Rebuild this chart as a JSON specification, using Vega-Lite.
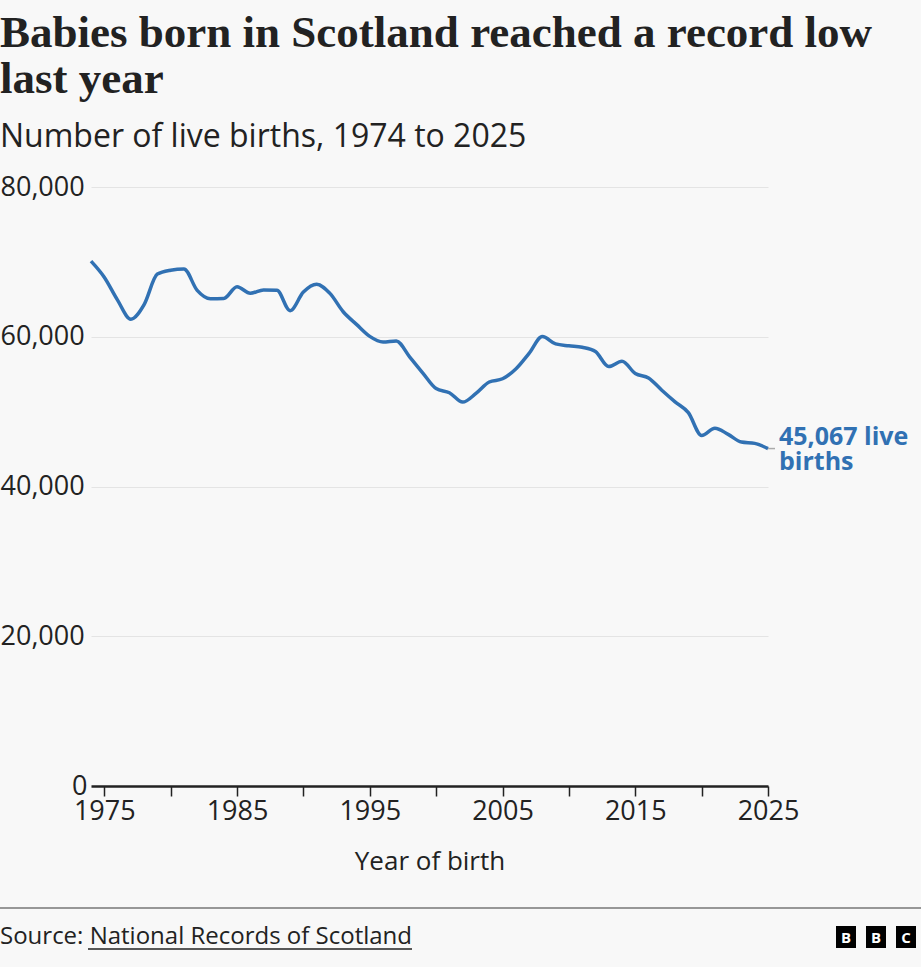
{
  "$schema": "https://vega.github.io/schema/vega-lite/v6.json",
  "width": 677,
  "height": 599,
  "autosize": "none",
  "padding": {"left": 91, "top": 187, "right": 153, "bottom": 181},
  "background": "#f8f8f8",
  "title": {
    "text": ["Babies born in Scotland reached a record low", "last year"],
    "subtitle": "Number of live births, 1974 to 2025",
    "anchor": "start",
    "frame": "group",
    "dx": -91,
    "offset": 20,
    "font": "Liberation Serif",
    "fontSize": 45,
    "fontWeight": "bold",
    "lineHeight": 46,
    "color": "#222222",
    "subtitleFont": "Open Sans",
    "subtitleFontSize": 32,
    "subtitleColor": "#222222",
    "subtitlePadding": 20
  },
  "config": {
    "view": {"stroke": null},
    "font": "Open Sans"
  },
  "data": {
    "values": [
      {"year": 1974, "births": 70093},
      {"year": 1975, "births": 67943},
      {"year": 1976, "births": 64895},
      {"year": 1977, "births": 62342},
      {"year": 1978, "births": 64295},
      {"year": 1979, "births": 68366},
      {"year": 1980, "births": 68892},
      {"year": 1981, "births": 69054},
      {"year": 1982, "births": 66196},
      {"year": 1983, "births": 65078},
      {"year": 1984, "births": 65106},
      {"year": 1985, "births": 66676},
      {"year": 1986, "births": 65812},
      {"year": 1987, "births": 66241},
      {"year": 1988, "births": 66212},
      {"year": 1989, "births": 63480},
      {"year": 1990, "births": 65973},
      {"year": 1991, "births": 67024},
      {"year": 1992, "births": 65789},
      {"year": 1993, "births": 63337},
      {"year": 1994, "births": 61656},
      {"year": 1995, "births": 60051},
      {"year": 1996, "births": 59296},
      {"year": 1997, "births": 59440},
      {"year": 1998, "births": 57319},
      {"year": 1999, "births": 55147},
      {"year": 2000, "births": 53076},
      {"year": 2001, "births": 52527},
      {"year": 2002, "births": 51270},
      {"year": 2003, "births": 52432},
      {"year": 2004, "births": 53957},
      {"year": 2005, "births": 54386},
      {"year": 2006, "births": 55690},
      {"year": 2007, "births": 57781},
      {"year": 2008, "births": 60041},
      {"year": 2009, "births": 59046},
      {"year": 2010, "births": 58791},
      {"year": 2011, "births": 58590},
      {"year": 2012, "births": 58027},
      {"year": 2013, "births": 56014},
      {"year": 2014, "births": 56725},
      {"year": 2015, "births": 55098},
      {"year": 2016, "births": 54488},
      {"year": 2017, "births": 52861},
      {"year": 2018, "births": 51308},
      {"year": 2019, "births": 49863},
      {"year": 2020, "births": 46809},
      {"year": 2021, "births": 47786},
      {"year": 2022, "births": 46959},
      {"year": 2023, "births": 45935},
      {"year": 2024, "births": 45763},
      {"year": 2025, "births": 45067}
    ]
  },
  "layer": [
    {
      "mark": {"type": "line", "interpolate": "monotone", "color": "#3171b3", "strokeWidth": 3.5},
      "encoding": {
        "x": {
          "field": "year",
          "type": "quantitative",
          "scale": {"domain": [1974, 2025], "nice": false, "zero": false},
          "axis": {
            "title": "Year of birth",
            "values": [1975, 1980, 1985, 1990, 1995, 2000, 2005, 2010, 2015, 2020, 2025],
            "format": "d",
            "labelExpr": "datum.value % 10 == 5 ? datum.label : ''",
            "labelFontSize": 27,
            "labelColor": "#222222",
            "labelPadding": 2,
            "labelFlush": false,
            "domain": true,
            "ticks": true,
            "tickSize": 10,
            "tickColor": "#222222",
            "tickWidth": 1.5,
            "domainColor": "#222222",
            "domainWidth": 2.5,
            "grid": false,
            "zindex": 1,
            "titleFontSize": 26,
            "titleFontWeight": "normal",
            "titleColor": "#222222",
            "titlePadding": 24
          }
        },
        "y": {
          "field": "births",
          "type": "quantitative",
          "scale": {"domain": [0, 80000], "nice": false},
          "axis": {
            "title": null,
            "values": [0, 20000, 40000, 60000, 80000],
            "format": ",d",
            "labelAlign": {"condition": {"test": "datum.value == 0", "value": "right"}, "value": "left"},
            "labelPadding": {"condition": {"test": "datum.value == 0", "value": 4}, "value": 91},
            "labelBaseline": "middle",
            "labelFontSize": 27,
            "labelColor": "#222222",
            "tickSize": 0,
            "domain": false,
            "gridColor": "#e4e4e4",
            "gridWidth": 1
          }
        }
      }
    },
    {
      "transform": [{"filter": "datum.year == 2025"}],
      "mark": {"type": "rule", "color": "#aaaaaa", "strokeWidth": 1.5},
      "encoding": {
        "x": {"field": "year", "type": "quantitative"},
        "x2": {"value": 684},
        "y": {"field": "births", "type": "quantitative"}
      }
    },
    {
      "transform": [{"filter": "datum.year == 2025"}],
      "mark": {"type": "text", "align": "left", "baseline": "middle", "dx": 11, "dy": -12, "fontSize": 25, "fontWeight": "bold", "color": "#3171b3", "lineHeight": 25},
      "encoding": {
        "x": {"field": "year", "type": "quantitative"},
        "y": {"field": "births", "type": "quantitative"},
        "text": {"value": ["45,067 live", "births"]}
      }
    },
    {
      "data": {"values": [{"part": "separator"}]},
      "mark": {"type": "rule", "color": "#777777", "strokeWidth": 1.5},
      "encoding": {
        "x": {"value": -91},
        "x2": {"value": 830},
        "y": {"value": 721}
      }
    },
    {
      "data": {"values": [{"part": "source"}]},
      "mark": {"type": "text", "align": "left", "baseline": "middle", "fontSize": 24, "color": "#222222"},
      "encoding": {
        "x": {"value": -91},
        "y": {"value": 750},
        "text": {"value": "Source: National Records of Scotland"}
      }
    },
    {
      "data": {"values": [{"part": "underline"}]},
      "mark": {"type": "rule", "color": "#222222", "strokeWidth": 1.3},
      "encoding": {
        "x": {"value": -3},
        "x2": {"value": 321},
        "y": {"value": 762}
      }
    },
    {
      "data": {"values": [{"part": "logo"}]},
      "mark": {"type": "rect", "color": "#000000"},
      "encoding": {"x": {"value": 745}, "x2": {"value": 765}, "y": {"value": 739}, "y2": {"value": 761}}
    },
    {
      "data": {"values": [{"part": "logo"}]},
      "mark": {"type": "rect", "color": "#000000"},
      "encoding": {"x": {"value": 775}, "x2": {"value": 795}, "y": {"value": 739}, "y2": {"value": 761}}
    },
    {
      "data": {"values": [{"part": "logo"}]},
      "mark": {"type": "rect", "color": "#000000"},
      "encoding": {"x": {"value": 805}, "x2": {"value": 825}, "y": {"value": 739}, "y2": {"value": 761}}
    },
    {
      "data": {"values": [{"part": "logo"}]},
      "mark": {"type": "text", "align": "center", "baseline": "middle", "fontSize": 15, "fontWeight": "bold", "color": "#ffffff"},
      "encoding": {"x": {"value": 755}, "y": {"value": 751}, "text": {"value": "B"}}
    },
    {
      "data": {"values": [{"part": "logo"}]},
      "mark": {"type": "text", "align": "center", "baseline": "middle", "fontSize": 15, "fontWeight": "bold", "color": "#ffffff"},
      "encoding": {"x": {"value": 785}, "y": {"value": 751}, "text": {"value": "B"}}
    },
    {
      "data": {"values": [{"part": "logo"}]},
      "mark": {"type": "text", "align": "center", "baseline": "middle", "fontSize": 15, "fontWeight": "bold", "color": "#ffffff"},
      "encoding": {"x": {"value": 815}, "y": {"value": 751}, "text": {"value": "C"}}
    }
  ]
}
